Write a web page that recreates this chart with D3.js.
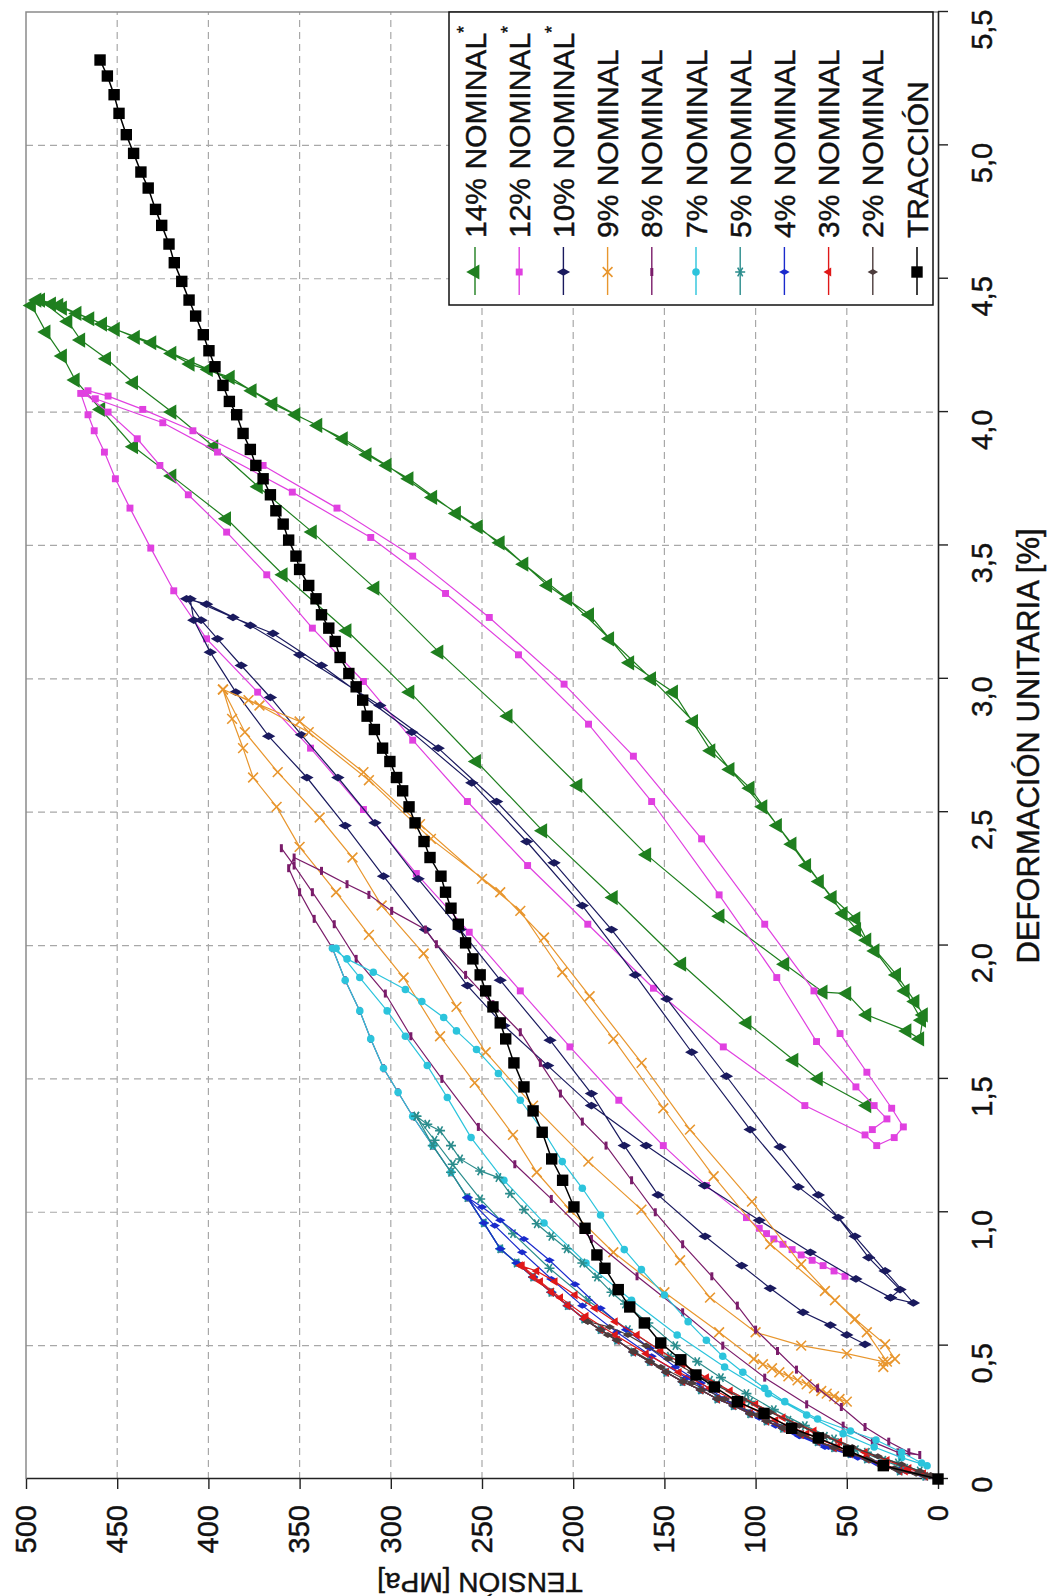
<!DOCTYPE html>
<html>
<head>
<meta charset="utf-8">
<script src="https://cdn.jsdelivr.net/npm/d3@7"></script>
<style>
body { margin: 0; background: #fff; }
text { stroke: #111; stroke-width: 0.45px; }
</style>
</head>
<body>
<div id="chart"></div>
<script>
const width = 1057, height = 1596;

// axis ticks
const defTicks = [0, 0.5, 1.0, 1.5, 2.0, 2.5, 3.0, 3.5, 4.0, 4.5, 5.0, 5.5];
const tenTicks = [0, 50, 100, 150, 200, 250, 300, 350, 400, 450, 500];

// [deformación %, tensión MPa]
const traccion = [[0,0],[0.05,30],[0.105,49],[0.154,65.6],[0.19,80.2],[0.246,95.4],[0.29,110],[0.345,122.6],[0.39,132.7],[0.447,141],[0.51,152],[0.585,161],[0.645,169],[0.71,175.3],[0.79,182.6],[0.84,187],[0.94,193.5],[1.02,199.6],[1.12,205.8],[1.20,211.8],[1.30,217],[1.38,222],[1.47,227],[1.56,232.5],[1.65,237],[1.71,240],[1.77,244],[1.83,248],[1.89,251],[1.95,255],[2.01,259],[2.08,263],[2.14,267],[2.20,270],[2.26,272.5],[2.33,278.5],[2.39,281.8],[2.46,286.7],[2.52,290],[2.58,293.5],[2.63,296.8],[2.69,300.5],[2.74,304.5],[2.81,309],[2.86,313],[2.92,315.4],[2.97,319],[3.02,323],[3.08,327.8],[3.14,330.5],[3.19,334],[3.24,338],[3.30,341],[3.35,345],[3.41,350],[3.46,352],[3.52,356],[3.58,359],[3.63,363],[3.69,366],[3.75,370],[3.80,374],[3.86,377],[3.92,381],[3.99,384.5],[4.04,388.5],[4.10,392],[4.17,396.4],[4.23,399.7],[4.29,402.8],[4.36,407],[4.42,410.6],[4.49,414.6],[4.56,418.7],[4.63,421.6],[4.70,425.6],[4.76,429],[4.84,433],[4.90,437],[4.97,441],[5.04,445],[5.12,449],[5.19,451.7],[5.26,455.4],[5.32,459.4]];

// first loading branch shared by the nominal tests that start at 0
const envelope = [[0,0],[0.01,7],[0.03,21],[0.05,31],[0.075,39],[0.095,48],[0.117,57],[0.14,66],[0.167,75],[0.19,85],[0.217,94],[0.245,103],[0.275,112],[0.30,121],[0.334,130],[0.365,140],[0.40,149],[0.44,158],[0.476,167],[0.52,176],[0.56,185],[0.60,194],[0.65,203],[0.70,212],[0.757,222],[0.81,231],[0.863,240],[0.96,249],[1.055,258],[1.15,267],[1.25,277],[1.36,288],[1.45,296],[1.54,304],[1.65,311],[1.755,317],[1.87,325],[1.99,332],[2.10,342],[2.20,350],[2.29,356],[2.365,361]];

const nom14 = [[1.40,39],[1.50,65.6],[1.57,79],[1.71,104.7],[1.93,140.5],[2.18,178],[2.43,216.7],[2.69,253],[2.95,289.5],[3.18,324],[3.39,359],[3.60,390],[3.76,420],[3.87,441],[4.01,459],[4.12,473],[4.21,480],[4.30,489],[4.40,497],[4.42,494],[4.405,486],
  [4.39,480],[4.35,465],[4.31,451],[4.26,431],[4.18,410],[4.13,388],[4.03,364.6],[3.95,340],[3.84,313],[3.75,290],[3.62,264],[3.51,240],[3.35,214],[3.24,191],[3.06,169],[2.95,145],[2.73,124.5],[2.59,103],[2.45,88],[2.30,72],[2.18,58],[2.10,45],[2.02,39],[1.89,22.7],[1.79,12.6],[1.74,8],[1.65,10],
  [1.68,17],[1.74,39],[1.82,50],[1.825,63],[1.93,84],[2.11,119.5],[2.34,159.7],[2.60,197.4],[2.86,235.7],[3.10,273.6],[3.34,308.7],[3.55,343],[3.72,372.6],[3.87,397],[4.00,420],[4.11,441],[4.20,455.8],[4.27,470],[4.34,477],[4.42,492],
  [4.40,482],[4.37,472],[4.33,458],[4.28,440],[4.22,420],[4.16,400],[4.08,376],[3.99,352],[3.90,326],[3.80,302],[3.68,277],[3.57,252],[3.43,227],[3.30,203],[3.15,180],[3.00,157],[2.84,134],[2.66,114],[2.52,96],[2.38,80],[2.24,65],[2.12,52],[2.06,44.6],[1.98,34.5],[1.83,18],[1.72,9]];

const nom12 = [[0.76,51],[0.78,57],[0.80,63],[0.82,69],[0.84,75],[0.86,80],[0.88,85],[0.90,90],[0.92,94],[0.94,98],[0.98,105],[1.10,127],[1.25,150.6],[1.42,175],[1.62,201.8],[1.83,229],[2.05,257],[2.27,286],[2.51,315],[2.74,344],[2.95,373],[3.15,401],[3.33,419],[3.49,431.6],[3.64,443],[3.75,451],[3.85,457],[3.93,462.6],[3.99,466],[4.07,470],[4.08,466],
  [4.06,455],[4.01,436],[3.93,408.5],[3.80,370],[3.64,329.5],[3.46,288],[3.23,246],[2.98,205],[2.71,167],[2.40,129.6],[2.08,95],[1.83,68],[1.67,53.7],[1.525,39],[1.39,25.4],[1.32,19],[1.28,24],
  [1.25,33.6],[1.29,40],[1.40,73],[1.62,117.7],[1.84,156],[2.08,192],[2.30,225],[2.54,258],[2.77,288],[2.99,315],[3.19,343],[3.39,368],[3.55,390],[3.69,411],[3.80,426.6],[3.90,439],[4.00,455],[4.07,468],
  [4.05,462],[3.96,425],[3.85,395],[3.70,354],[3.53,311],[3.32,270],[3.09,230],[2.83,191.6],[2.54,157],[2.19,120],[1.88,88.4],[1.64,66.6],[1.47,45],[1.40,35],[1.35,28],[1.31,36]];

const nom10 = [[0.505,40],[0.54,50],[0.577,59],[0.625,74],[0.715,92],[0.80,107.6],[0.91,127.7],[1.065,153.5],[1.25,172],[1.445,190],[1.645,212.7],[1.87,240],[2.06,262],[2.25,285],[2.46,308.7],[2.63,329],[2.79,349],[2.93,366],[3.05,382],[3.15,395],[3.22,404],[3.30,412],
  [3.28,401],[3.20,377],[3.09,350],[2.90,306],[2.74,274],[2.54,242],[2.31,210.5],[2.06,179],[1.80,148.7],[1.51,116],[1.245,86.6],[1.065,65.6],[0.91,45.5],[0.78,29],[0.66,13.5],
  [0.68,26],[0.75,45],[0.85,70],[0.97,98],[1.10,128],[1.25,160],[1.40,190],[1.55,214],[1.70,238],[1.85,258],[2.06,281],[2.26,304],[2.45,325],[2.63,346],[2.785,367],[2.95,385],[3.10,399],[3.22,408],[3.30,410],
  [3.23,386.5],[3.17,364.6],[3.05,338],[2.80,288.5],[2.61,255.6],[2.39,225.5],[2.15,195],[1.89,166],[1.60,135],[1.31,103],[1.095,76.6],[0.98,54.7],[0.83,38],[0.71,20.8],[0.68,26]];

const nom9 = [[0.29,50],[0.30,54],[0.31,57],[0.32,61],[0.33,64],[0.34,68],[0.355,72],[0.37,77],[0.385,82],[0.40,87],[0.415,91],[0.43,96],[0.45,101],
  [0.55,120],[0.70,150],[0.85,178],[1.01,202],[1.15,220],[1.29,233],[1.485,254],[1.66,273],[1.88,293],[2.04,312],[2.20,330],[2.37,350],[2.52,362.6],[2.63,375.5],[2.74,381],[2.85,387],[2.96,392],
  [2.92,378],[2.84,350],[2.65,315],[2.455,284],[2.25,250],[2.13,229],[1.90,206],[1.65,178],[1.39,150.6],[1.135,123],[0.88,92],[0.705,62],[0.60,45.5],[0.505,29],[0.45,23.6],[0.42,30],
  [0.44,30],[0.47,50],[0.50,75],[0.55,100],[0.68,125],[0.82,141.4],[1.01,162.6],[1.19,191.7],[1.40,222],[1.60,248],[1.77,264],[1.97,282],[2.15,305],[2.33,321],[2.48,339],[2.65,362],[2.80,380],[2.96,392],
  [2.90,372],[2.80,345],[2.62,312],[2.40,278],[2.20,240],[2.03,216],[1.81,191],[1.56,162.5],[1.31,136],[1.04,102],[0.805,75],[0.67,56.5],[0.55,39],[0.44,28]];

const cycle8 = [[2.33,353],[2.28,338],[2.23,324],[2.19,312],[2.13,299.5],[2.06,281],[2.005,275],[1.89,259],[1.78,244],[1.675,229],[1.56,218],[1.445,207],[1.34,195],[1.25,182],[1.12,168],[1.00,155],[0.88,140],[0.76,124],[0.65,110],[0.56,100],[0.48,88],[0.41,77.6],[0.34,66],[0.27,53],[0.195,40],[0.14,27],[0.10,16],[0.09,10],
  [0.10,22],[0.14,36],[0.20,52],[0.28,72],[0.38,95],[0.50,118],[0.625,140],[0.76,165],[0.90,190],[1.05,212],[1.18,232],[1.32,252],[1.50,272],[1.66,289],[1.82,303],[1.95,319],[2.08,331],[2.20,343],[2.30,353],[2.365,360]];

const cycle7 = [[1.95,324],[1.90,309.6],[1.835,292],[1.79,283],[1.73,271],[1.68,264],[1.61,253],[1.52,241],[1.42,229],[1.30,216],[1.19,206],[1.09,195],[0.99,185],[0.86,172],[0.785,162.6],[0.69,150],[0.59,137],[0.52,127],[0.46,118],[0.40,107],[0.34,95],[0.29,84],[0.225,66],[0.18,48],[0.146,34],[0.10,20],[0.06,9],[0.05,6],
  [0.08,20],[0.12,35],[0.17,52],[0.24,72],[0.32,93],[0.42,117],[0.54,143],[0.67,168],[0.81,193],[0.96,216],[1.12,238],[1.28,256],[1.43,269],[1.55,280],[1.66,292],[1.755,302],[1.88,317],[1.99,330]];

const cycle5 = [[1.36,286],[1.33,280],[1.306,273],[1.25,267],[1.20,262],[1.155,251],[1.13,241],[1.07,234.6],[1.01,227],[0.957,220],[0.91,212],[0.863,203.6],[0.81,195],[0.757,187],[0.70,179],[0.656,171.6],[0.585,158.8],[0.50,144],[0.44,132],[0.38,119],[0.32,105],[0.26,90],[0.20,73],[0.15,57],[0.10,39],[0.06,22],[0.03,10],
  [0.04,18],[0.07,30],[0.11,45],[0.16,62],[0.22,82],[0.29,103],[0.37,125],[0.46,147],[0.56,170],[0.67,192],[0.79,213],[0.92,233],[1.05,251],[1.18,266],[1.27,276],[1.36,286]];

const cycle4 = [[1.02,250],[0.97,240],[0.90,227],[0.82,213],[0.73,199],[0.64,185],[0.56,171],[0.49,158],[0.42,144],[0.36,130],[0.30,117],[0.25,103],[0.20,89],[0.16,76],[0.12,62],[0.09,48],[0.06,34],[0.034,21],[0.02,10],
  [0.03,18],[0.05,30],[0.08,44],[0.12,60],[0.17,78],[0.23,98],[0.30,118],[0.38,138],[0.46,157],[0.55,176],[0.65,195],[0.75,212],[0.85,228],[0.95,243],[1.055,258]];

const cycle3 = [[0.80,229],[0.78,220],[0.74,210],[0.69,199],[0.64,188],[0.59,177],[0.54,165],[0.48,152],[0.43,140],[0.38,127],[0.33,114],[0.28,100],[0.23,85],[0.18,68],[0.14,54],[0.10,40],[0.07,28],[0.04,16],[0.02,8],
  [0.03,18],[0.05,28],[0.08,40],[0.12,55],[0.17,72],[0.22,89],[0.28,107],[0.34,125],[0.40,142],[0.47,160],[0.54,177],[0.61,193],[0.68,207],[0.74,218],[0.80,228]];

const cycle2 = [[0.59,192],[0.57,180],[0.54,170],[0.50,160],[0.45,148],[0.40,135],[0.35,121],[0.30,107],[0.25,92],[0.20,76],[0.16,62],[0.12,47],[0.085,33],[0.055,20],[0.03,10],[0.015,4],
  [0.02,12],[0.04,24],[0.07,37],[0.10,50],[0.14,65],[0.19,82],[0.24,99],[0.30,117],[0.36,135],[0.42,152],[0.48,167],[0.54,181],[0.59,192]];

const series = [
  {name: "14% NOMINAL", star: true, color: "#1f7f1f", mark: "triangle", size: 100, data: nom14},
  {name: "12% NOMINAL", star: true, color: "#e040e0", mark: "square", size: 48, data: nom12},
  {name: "10% NOMINAL", star: true, color: "#1a1a5e", mark: "diamond", size: 52, data: nom10},
  {name: "9% NOMINAL", color: "#e8962e", mark: "times", size: 64, data: nom9},
  {name: "8% NOMINAL", color: "#7a1c6a", mark: "dash", size: 0, data: envelope.slice(0, 41).concat(cycle8)},
  {name: "7% NOMINAL", color: "#2cc4dc", mark: "circle", size: 45, data: envelope.slice(0, 38).concat(cycle7)},
  {name: "5% NOMINAL", color: "#2a8c8c", mark: "plus", size: 70, data: envelope.slice(0, 31).concat(cycle5)},
  {name: "4% NOMINAL", color: "#1a2acc", mark: "diamond", size: 32, data: envelope.slice(0, 29).concat(cycle4)},
  {name: "3% NOMINAL", color: "#e01818", mark: "triangle", size: 34, data: envelope.slice(0, 25).concat(cycle3)},
  {name: "2% NOMINAL", color: "#4c3c3c", mark: "diamond", size: 32, data: envelope.slice(0, 21).concat(cycle2)},
  {name: "TRACCIÓN", color: "#000", mark: "square", size: 130, width: 1.5, data: traccion}
];

const font = "Arial, 'Liberation Sans', sans-serif";

const svg = d3.select("#chart").append("svg")
  .attr("width", width)
  .attr("height", height)
  .style("background", "#fff");

// the chart is laid out normally, then turned a quarter turn to the left
const g = svg.append("g")
  .attr("transform", `translate(0,${height}) rotate(-90)`)
  .style("font-family", font);

const x = d3.scaleLinear().domain([0, 5.5]).range([117, 1584]);
const y = d3.scaleLinear().domain([0, 500]).range([938, 26]);

// grid
g.append("g").selectAll("line")
  .data(defTicks.filter(d => d > 0 && d < 5.5))
  .join("line")
  .attr("x1", d => x(d)).attr("x2", d => x(d))
  .attr("y1", y(500)).attr("y2", y(0))
  .attr("stroke", "#a8a8a8").attr("stroke-width", 1.2)
  .attr("stroke-dasharray", "7,5");
g.append("g").selectAll("line")
  .data(tenTicks.filter(d => d > 0 && d < 500))
  .join("line")
  .attr("x1", x(0)).attr("x2", x(5.5))
  .attr("y1", d => y(d)).attr("y2", d => y(d))
  .attr("stroke", "#a8a8a8").attr("stroke-width", 1.2)
  .attr("stroke-dasharray", "7,5");

// top and right border
g.append("path")
  .attr("d", `M${x(0)},${y(500)}H${x(5.5)}V${y(0)}`)
  .attr("fill", "none").attr("stroke", "#8a8a8a").attr("stroke-width", 1.5);

const fmtDef = d => d === 0 ? "0" : d.toFixed(1).replace(".", ",");

const xAxis = g.append("g")
  .attr("transform", `translate(0,${y(0)})`)
  .call(d3.axisBottom(x).tickValues(defTicks).tickSize(10).tickSizeOuter(0).tickFormat(fmtDef))
  .attr("font-family", font).attr("font-size", 29);
xAxis.selectAll("text")
  .attr("y", 44).attr("dy", "0.35em").attr("x", 2)
  .attr("text-anchor", "end").attr("fill", "#111");

const yAxis = g.append("g")
  .attr("transform", `translate(${x(0)},0)`)
  .call(d3.axisLeft(y).tickValues(tenTicks).tickSize(10).tickSizeOuter(0))
  .attr("font-family", font).attr("font-size", 29);
yAxis.selectAll("text").attr("x", -26).attr("fill", "#111");

[xAxis, yAxis].forEach(a => {
  a.select(".domain").attr("stroke", "#222").attr("stroke-width", 1.6);
  a.selectAll(".tick line").attr("stroke", "#222").attr("stroke-width", 1.4);
});

// axis titles
g.append("text")
  .attr("x", 850).attr("y", 1028)
  .attr("text-anchor", "middle").attr("dominant-baseline", "central")
  .style("font-size", "31px").attr("fill", "#111")
  .text("DEFORMACIÓN UNITARIA [%]");
g.append("text")
  .attr("transform", "translate(14,480) rotate(-90)")
  .attr("text-anchor", "middle").attr("dominant-baseline", "central")
  .style("font-size", "28px").attr("fill", "#111")
  .text("TENSIÓN [MPa]");

const symbols = {
  triangle: d3.symbolTriangle,
  square: d3.symbolSquare,
  diamond: d3.symbolDiamond,
  circle: d3.symbolCircle,
  times: d3.symbolTimes || d3.symbolCross,
  plus: d3.symbolAsterisk || d3.symbolCross
};
const stroked = {times: true, plus: true, dash: true};

function markerPath(s) {
  if (s.mark === "dash") return "M-4,0H4";
  return d3.symbol().type(symbols[s.mark]).size(s.size)();
}

function drawMarks(sel, s) {
  sel.attr("d", markerPath(s))
    .attr("fill", stroked[s.mark] ? "none" : s.color)
    .attr("stroke", stroked[s.mark] ? s.color : "none")
    .attr("stroke-width", s.mark === "dash" ? 3 : 1.6);
}

const line = d3.line().x(d => x(d[0])).y(d => y(d[1]));

series.forEach(s => {
  const sg = g.append("g");
  sg.append("path")
    .datum(s.data)
    .attr("d", line)
    .attr("fill", "none")
    .attr("stroke", s.color)
    .attr("stroke-width", s.width || 1.2);
  sg.selectAll(".m")
    .data(s.data)
    .join("path")
    .attr("class", "m")
    .attr("transform", d => `translate(${x(d[0])},${y(d[1])})`)
    .call(drawMarks, s);
});

// legend
const legend = g.append("g");
legend.append("rect")
  .attr("x", 1291).attr("y", 449)
  .attr("width", 293).attr("height", 484)
  .attr("fill", "#fff").attr("stroke", "#111").attr("stroke-width", 1.5);

series.forEach((s, i) => {
  const cy = 475 + i * 44.2;
  legend.append("line")
    .attr("x1", 1301).attr("x2", 1349).attr("y1", cy).attr("y2", cy)
    .attr("stroke", s.color).attr("stroke-width", s.width || 1.4);
  legend.append("path")
    .attr("transform", `translate(1324,${cy})`)
    .call(drawMarks, s);
  const t = legend.append("text")
    .attr("x", 1358).attr("y", cy)
    .attr("dominant-baseline", "central")
    .style("font-size", "30px").attr("fill", "#111")
    .text(s.name);
  if (s.star) {
    t.append("tspan").attr("dy", -11).style("font-size", "18px").text("*");
  }
});
</script>
</body>
</html>
